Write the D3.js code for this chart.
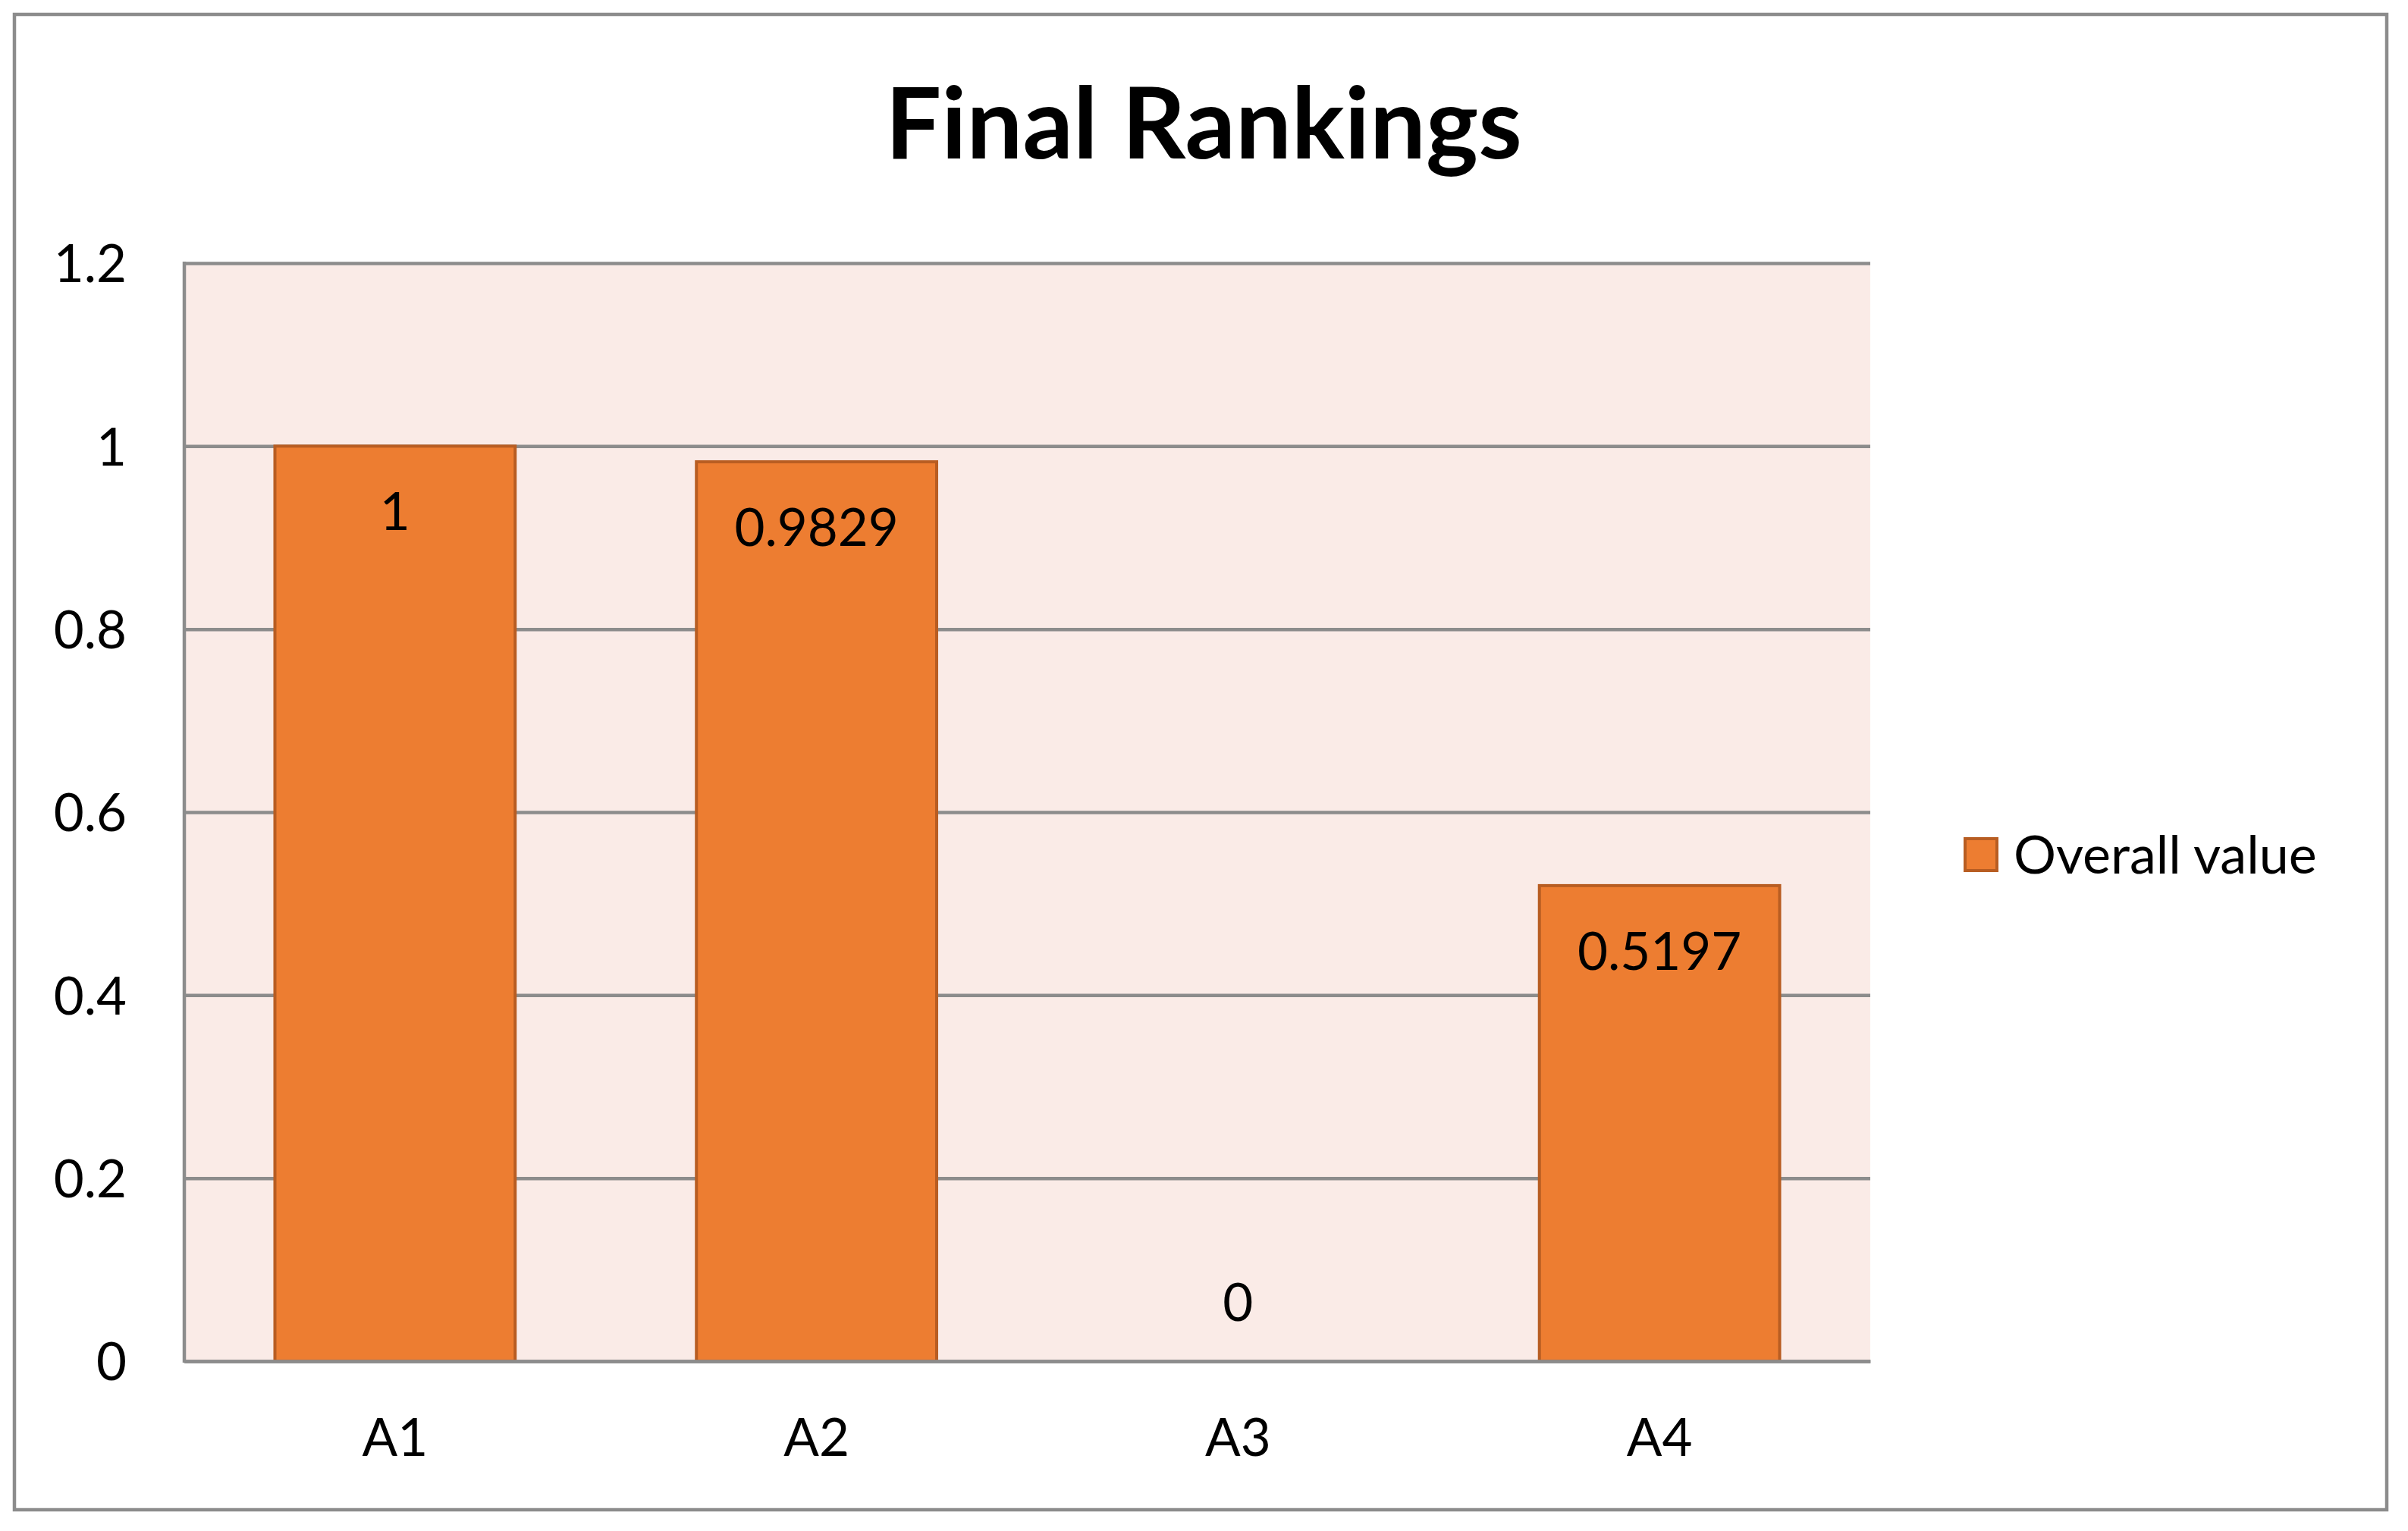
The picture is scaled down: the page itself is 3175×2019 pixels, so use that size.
<!DOCTYPE html>
<html>
<head>
<meta charset="utf-8">
<script src="https://cdn.jsdelivr.net/npm/d3@7"></script>
<style>
  body { margin: 0; background: #fff; }
  text { font-family: Lato, "Open Sans", sans-serif; fill: #000; }
</style>
</head>
<body>
<div id="chart"></div>
<script>
var chartTitle = "Final Rankings";
var seriesName = "Overall value";
var categories = ["A1", "A2", "A3", "A4"];
var overallValue = [1, 0.9829, 0, 0.5197];
var valueLabels = ["1", "0.9829", "0", "0.5197"];
var yTicks = [0, 0.2, 0.4, 0.6, 0.8, 1, 1.2];
var yTickLabels = ["0", "0.2", "0.4", "0.6", "0.8", "1", "1.2"];

var W = 3175, H = 2019;
var plot = {left: 243, right: 2466, top: 347, bottom: 1795};
var orange = "#ed7d31", orangeEdge = "#b85d22", grey = "#8c8c8c";

var svg = d3.select("#chart")
            .append("svg")
            .attr("width", W)
            .attr("height", H);

// outer chart border
svg.append("rect")
   .attr("x", 19).attr("y", 19)
   .attr("width", 3128).attr("height", 1972)
   .style("fill", "#fff")
   .style("stroke", grey)
   .style("stroke-width", 4.5);

svg.append("text")
   .attr("x", 1587).attr("y", 209)
   .attr("text-anchor", "middle")
   .style("font-size", "131px")
   .style("font-weight", "bold")
   .text(chartTitle);

var x = d3.scaleBand()
          .domain(categories)
          .range([plot.left, plot.right])
          .paddingInner(0.43)
          .paddingOuter(0.215);

var y = d3.scaleLinear()
          .domain([0, 1.2])
          .range([plot.bottom, plot.top]);

var g = svg.append("g");

g.append("rect")
 .attr("x", plot.left).attr("y", plot.top)
 .attr("width", plot.right - plot.left)
 .attr("height", plot.bottom - plot.top)
 .style("fill", "#faebe7");

// gridlines + y labels
var yAxis = g.append("g")
             .attr("transform", "translate(" + plot.left + ",0)")
             .call(d3.axisLeft(y)
                     .tickValues(yTicks)
                     .tickFormat(function(d, i) { return yTickLabels[i]; })
                     .tickSize(-(plot.right - plot.left))
                     .tickSizeOuter(0)
                     .tickPadding(76));
yAxis.select(".domain").remove();
yAxis.selectAll(".tick line")
     .style("stroke", grey)
     .style("stroke-width", 4.5);
yAxis.selectAll(".tick text")
     .attr("dy", "0.36em")
     .style("font-size", "69px")
     .style("font-family", "Lato");

// bars
g.selectAll("rect.bar")
 .data(overallValue)
 .enter()
 .append("rect")
 .attr("class", "bar")
 .attr("x", function(d, i) { return x(categories[i]); })
 .attr("y", function(d) { return y(d); })
 .attr("width", x.bandwidth())
 .attr("height", function(d) { return y(0) - y(d); })
 .style("fill", orange)
 .style("stroke", function(d) { return d > 0 ? orangeEdge : "none"; })
 .style("stroke-width", 4);

// value labels, inside end
g.selectAll("text.val")
 .data(overallValue)
 .enter()
 .append("text")
 .attr("class", "val")
 .attr("x", function(d, i) { return x(categories[i]) + x.bandwidth() / 2; })
 .attr("y", function(d) { return d > 0 ? y(d) + 86 : y(0) - 78; })
 .attr("dy", "0.36em")
 .attr("text-anchor", "middle")
 .style("font-size", "69px")
 .text(function(d, i) { return valueLabels[i]; });

// axis lines on top
var xAxis = g.append("g")
             .attr("transform", "translate(0," + plot.bottom + ")")
             .call(d3.axisBottom(x).tickSize(0).tickSizeOuter(0));
xAxis.select(".domain")
     .style("stroke", grey)
     .style("stroke-width", 4.5);
xAxis.selectAll(".tick text")
     .attr("y", 100)
     .attr("dy", "0.36em")
     .style("font-size", "69px")
     .style("font-family", "Lato");

g.append("line")
 .attr("x1", plot.left).attr("x2", plot.left)
 .attr("y1", plot.top - 2).attr("y2", plot.bottom + 2)
 .style("stroke", grey)
 .style("stroke-width", 4.5);

// legend
var legend = svg.append("g")
                .attr("transform", "translate(2589,1104)");
legend.append("rect")
      .attr("x", 2).attr("y", 2)
      .attr("width", 42).attr("height", 42)
      .style("fill", orange)
      .style("stroke", orangeEdge)
      .style("stroke-width", 4);
legend.append("text")
      .attr("x", 66).attr("y", 23)
      .attr("dy", "0.36em")
      .style("font-size", "70px")
      .text(seriesName);
</script>
</body>
</html>
